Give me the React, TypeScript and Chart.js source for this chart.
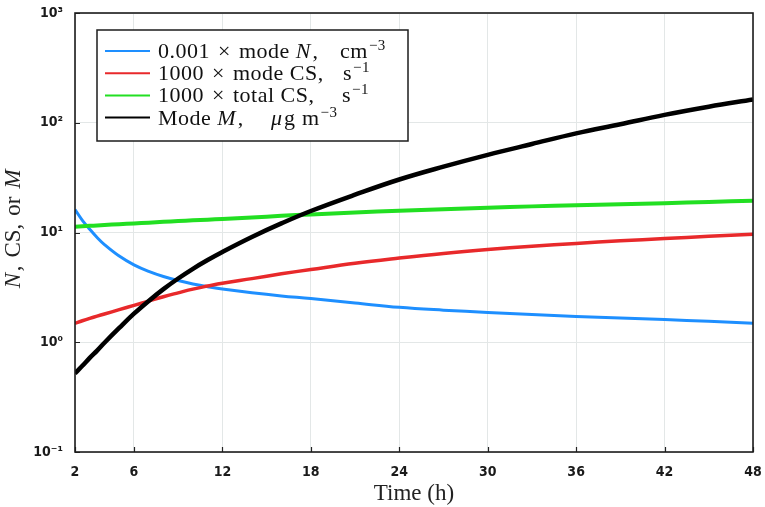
import React, { useEffect, useRef } from "react";
import { Chart, registerables } from "chart.js";
Chart.register(...registerables);

// ---- data ----
const TIME = [2, 2.5, 3, 3.5, 4, 5, 6, 7, 8, 9, 10, 11, 12, 14, 16, 18, 21, 24, 27, 30, 33, 36, 39, 42, 45, 48];
const MODE_N = [16.2, 12.9, 10.7, 9.0, 7.76, 6.1, 5.07, 4.42, 3.97, 3.65, 3.4, 3.21, 3.05, 2.82, 2.64, 2.5, 2.28, 2.08, 1.96, 1.87, 1.79, 1.72, 1.66, 1.61, 1.55, 1.49];
const MODE_CS = [1.49, 1.57, 1.65, 1.73, 1.81, 1.98, 2.17, 2.37, 2.6, 2.82, 3.05, 3.25, 3.45, 3.8, 4.2, 4.6, 5.25, 5.85, 6.45, 7.0, 7.5, 7.95, 8.4, 8.8, 9.25, 9.66];
const TOTAL_CS = [11.3, 11.4, 11.5, 11.6, 11.7, 11.9, 12.1, 12.3, 12.5, 12.7, 12.9, 13.1, 13.3, 13.7, 14.2, 14.6, 15.2, 15.8, 16.3, 16.8, 17.3, 17.7, 18.1, 18.5, 19.0, 19.5];
const MODE_M = [0.52, 0.61, 0.72, 0.84, 0.99, 1.35, 1.82, 2.38, 3.05, 3.81, 4.67, 5.61, 6.65, 9.1, 12.1, 15.7, 22.1, 30.4, 39.8, 51, 64, 80, 97, 118, 140, 163];

const X_TICKS = [2, 6, 12, 18, 24, 30, 36, 42, 48];
const Y_TICKS = [0.1, 1, 10, 100, 1000];
const Y_TICK_LABELS = ["10\u207B\u00B9", "10\u2070", "10\u00B9", "10\u00B2", "10\u00B3"];

const X_TITLE = "Time (h)";
// rich-text runs: [text, style, gap before] style: r=roman, i=italic, s=superscript
type Run = [string, string, number];
const Y_TITLE: Run[] = [["N", "i", 0], [",", "r", 0], ["CS,", "r", 8], ["or", "r", 8], ["M", "i", 8]];
// legend rows: [quantity runs, unit runs...]
const LEGEND_ROWS: Run[][][] = [
  [[["0.001", "r", 0], ["\u00D7", "r", 8], ["mode", "r", 8], ["N", "i", 6], [",", "r", 0]], [["cm", "r", 0], ["\u22123", "s", 1]]],
  [[["1000", "r", 0], ["\u00D7", "r", 8], ["mode", "r", 8], ["CS,", "r", 6]], [["s", "r", 0], ["\u22121", "s", 1]]],
  [[["1000", "r", 0], ["\u00D7", "r", 8], ["total", "r", 8], ["CS,", "r", 6]], [["s", "r", 0], ["\u22121", "s", 1]]],
  [[["Mode", "r", 0], ["M", "i", 6], [",", "r", 0]], [["\u03BC", "i", 0], ["g", "r", 0]], [["m", "r", 0], ["\u22123", "s", 1]]],
];
const COLORS = ["#1e8fff", "#e8292b", "#22df22", "#000000"];
const WIDTHS = [3, 3.5, 4, 4.5];

const SERIF = "'Liberation Serif', serif";
const BASE = 22;

function fontFor(style: string, size: number) {
  if (style === "i") return `italic ${size}px ${SERIF}`;
  if (style === "s") return `${Math.round(size * 0.7)}px ${SERIF}`;
  return `${size}px ${SERIF}`;
}

function drawRuns(ctx: CanvasRenderingContext2D, x: number, y: number, runs: Run[], size: number, measureOnly = false) {
  let cx = x;
  runs.forEach(([t, s, gap]) => {
    ctx.font = fontFor(s, size);
    cx += gap;
    const dy = s === "s" ? -size * 0.36 : 0;
    if (!measureOnly) ctx.fillText(t, cx, y + dy);
    cx += ctx.measureText(t).width + (s === "i" ? 1.5 : 0);
  });
  return cx - x;
}

const LEGEND_COL_X = [
  [158, 340],
  [158, 343],
  [158, 342],
  [158, 271, 302],
];

const decor = {
  id: "decor",
  afterDraw(chart: any) {
    const ctx: any = chart.ctx;
    const { left, right, top, bottom } = chart.chartArea;
    const xs = chart.scales.x;
    const ys = chart.scales.y;
    ctx.save();
    // inward ticks
    ctx.strokeStyle = "#222";
    ctx.lineWidth = 1.2;
    ctx.beginPath();
    for (const v of X_TICKS) {
      const px = Math.round(xs.getPixelForValue(v)) + 0.5;
      ctx.moveTo(px, bottom);
      ctx.lineTo(px, bottom - 5);
    }
    for (const v of Y_TICKS) {
      const py = Math.round(ys.getPixelForValue(v)) + 0.5;
      ctx.moveTo(left, py);
      ctx.lineTo(left + 5, py);
    }
    ctx.stroke();
    // frame
    ctx.strokeStyle = "#1c1c1c";
    ctx.lineWidth = 1.6;
    ctx.strokeRect(left, top, right - left, bottom - top);

    // legend
    const lx = 97, ly = 30, lw = 311, lh = 111;
    ctx.fillStyle = "#fff";
    ctx.fillRect(lx, ly, lw, lh);
    ctx.strokeStyle = "#1c1c1c";
    ctx.lineWidth = 1.5;
    ctx.strokeRect(lx, ly, lw, lh);
    ctx.textBaseline = "alphabetic";
    ctx.textAlign = "left";
    ctx.letterSpacing = "0.5px";
    LEGEND_ROWS.forEach((row, i) => {
      const cy = 51 + i * 22.2;
      ctx.strokeStyle = COLORS[i];
      ctx.lineWidth = 2;
      ctx.beginPath();
      ctx.moveTo(105, cy);
      ctx.lineTo(150, cy);
      ctx.stroke();
      ctx.fillStyle = "#111";
      row.forEach((part, j) => drawRuns(ctx, LEGEND_COL_X[i][j], cy + 7, part, BASE));
    });
    ctx.letterSpacing = "0px";

    // x title
    ctx.fillStyle = "#222";
    ctx.font = `${BASE + 1}px ${SERIF}`;
    ctx.textAlign = "center";
    ctx.fillText(X_TITLE, (left + right) / 2, 500);

    // y title
    ctx.save();
    ctx.translate(20, 228);
    ctx.rotate(-Math.PI / 2);
    ctx.textAlign = "left";
    const w = drawRuns(ctx, 0, 0, Y_TITLE, BASE + 1, true);
    drawRuns(ctx, -w / 2, 0, Y_TITLE, BASE + 1);
    ctx.restore();
    ctx.restore();
  },
};

export default function App() {
  const ref = useRef<HTMLCanvasElement>(null);
  useEffect(() => {
    document.body.style.margin = "0";
    const mk = (arr: number[]) => TIME.map((t, i) => ({ x: t, y: arr[i] }));
    const labels = ["0.001 × mode N, cm⁻³", "1000 × mode CS, s⁻¹", "1000 × total CS, s⁻¹", "Mode M, μg m⁻³"];
    const series = [MODE_N, MODE_CS, TOTAL_CS, MODE_M];
    const orders = [3, 2, 1, 0];
    const tickFont = { family: "'DejaVu Sans Condensed', 'DejaVu Sans', sans-serif", size: 14, weight: "bold" as const };
    const chart = new Chart(ref.current!, {
      type: "line",
      data: {
        datasets: series.map((s, i) => ({
          label: labels[i],
          data: mk(s),
          borderColor: COLORS[i],
          backgroundColor: COLORS[i],
          borderWidth: WIDTHS[i],
          pointRadius: 0,
          tension: 0.4,
          fill: false,
          order: orders[i],
        })),
      },
      options: {
        responsive: false,
        animation: false,
        layout: { padding: { left: 0, right: 12, top: 13, bottom: 0 } },
        plugins: { legend: { display: false }, tooltip: { enabled: false } },
        scales: {
          x: {
            type: "linear",
            min: 2,
            max: 48,
            afterBuildTicks: (s: any) => {
              s.ticks = X_TICKS.map((v) => ({ value: v }));
            },
            afterFit: (s: any) => {
              s.height = 55;
              s.paddingLeft = 0;
              s.paddingRight = 0;
            },
            ticks: { font: tickFont, color: "#1a1a1a", padding: 12, maxRotation: 0, autoSkip: false, callback: (v: any) => String(v) },
            grid: { color: "#e3e7e7", lineWidth: 1, drawTicks: false },
            border: { display: false },
          },
          y: {
            type: "logarithmic",
            min: 0.1,
            max: 1000,
            afterBuildTicks: (s: any) => {
              s.ticks = Y_TICKS.map((v) => ({ value: v }));
            },
            afterFit: (s: any) => {
              s.width = 75;
              s.paddingTop = 0;
              s.paddingBottom = 0;
            },
            ticks: {
              font: tickFont,
              color: "#1a1a1a",
              padding: 12,
              callback: (v: any) => Y_TICK_LABELS[Math.round(Math.log10(Number(v))) + 1],
            },
            grid: { color: "#e3e7e7", lineWidth: 1, drawTicks: false },
            border: { display: false },
          },
        },
      },
      plugins: [decor],
    });
    return () => chart.destroy();
  }, []);
  return (
    <div style={{ width: 765, height: 507, background: "#fff" }}>
      <canvas ref={ref} width={765} height={507} style={{ display: "block" }} />
    </div>
  );
}
